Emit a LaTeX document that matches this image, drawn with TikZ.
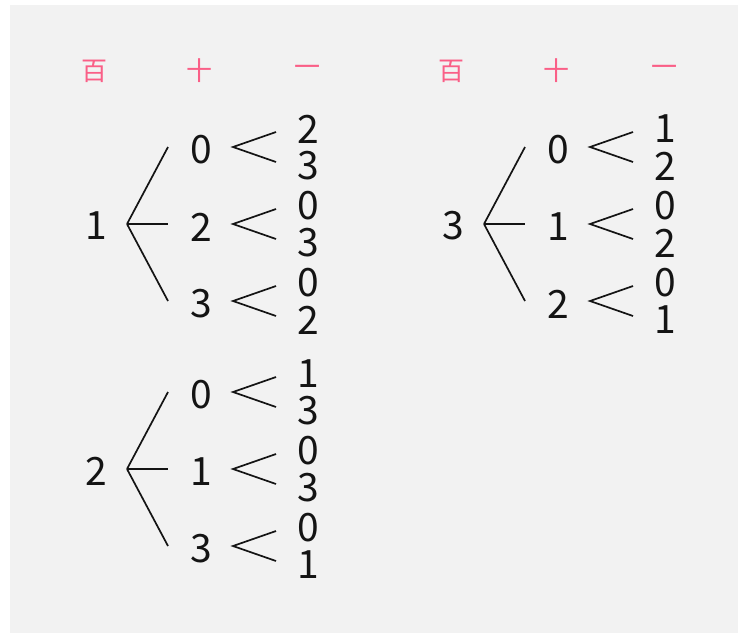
\documentclass[tikz,border=0pt]{standalone}
\usepackage{fontspec}
\setmainfont{Noto Sans CJK JP}
\definecolor{bg}{RGB}{242,242,242}
\definecolor{pinkhd}{RGB}{250,95,135}
\definecolor{ink}{RGB}{20,20,20}
\newcommand\mytree[5]{%
  \node[dig] (#1r) at (96+#2,#3+2) {#4};
  \coordinate (#1f) at (127+#2,#3);
  \foreach \m/\la/\lb/\o [count=\i] in {#5}{%
    \coordinate (#1e\i) at (168+#2,#3+\o);
    \draw[br] (#1f) -- (#1e\i);
    \node[dig] (#1m\i) at (201+#2,#3+\o+3) {\m};
    \coordinate (#1t\i) at (233+#2,#3+\o);
    \coordinate (#1u\i) at (276+#2,#3+\o-15);
    \coordinate (#1d\i) at (276+#2,#3+\o+15);
    \draw[br] (#1u\i) -- (#1t\i) -- (#1d\i);
    \node[dig] (#1a\i) at (308+#2,#3+\o-18) {\la};
    \node[dig] (#1b\i) at (308+#2,#3+\o+19) {\lb};
  }%
}
\begin{document}
\begin{tikzpicture}[x=1pt,y=-1pt,
  dig/.style={inner sep=0pt, text=ink, font=\fontsize{39}{39}\selectfont},
  hd/.style={inner sep=0pt, text=pinkhd, font=\fontsize{26}{26}\selectfont},
  br/.style={line width=1.7pt, draw=ink}]
\useasboundingbox (0,0) rectangle (738,633);
\fill[bg] (10,5) rectangle (738,633);
% headers
\node[hd] (hA1) at (94,71) {百};
\node[hd] (hA2) at (199,71) {十};
\node[hd] (hA3) at (307,71) {一};
\node[hd] (hC1) at (451,71) {百};
\node[hd] (hC2) at (556,71) {十};
\node[hd] (hC3) at (664,71) {一};
% trees
\mytree{A}{0}{224}{1}{0/2/3/-77, 2/0/3/0, 3/0/2/77}
\mytree{B}{0}{469}{2}{0/1/3/-77, 1/0/3/0, 3/0/1/77}
\mytree{C}{357}{224}{3}{0/1/2/-77, 1/0/2/0, 2/0/1/77}
\end{tikzpicture}
\end{document}
